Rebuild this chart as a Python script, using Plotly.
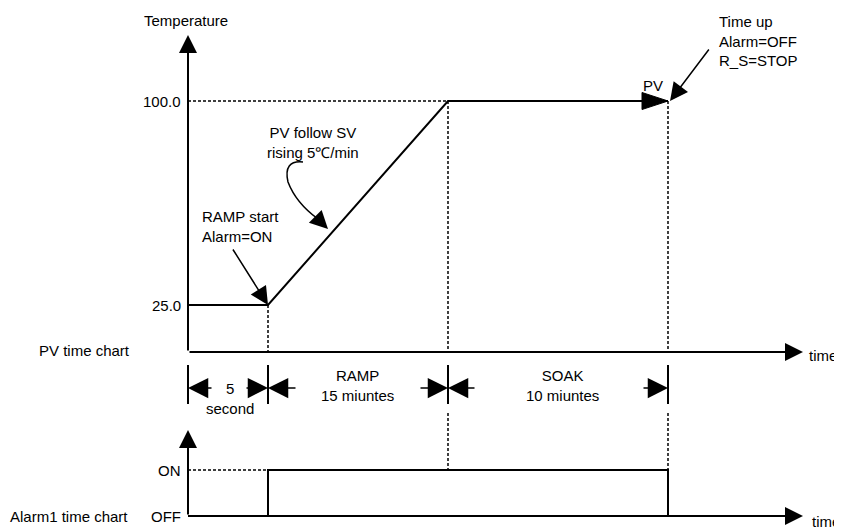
import plotly.graph_objects as go

# ---------------- data ----------------
time_marks = [0, 4, 13, 24]            # schematic time positions: start, +5 s, +15 min, +10 min
pv_values = [25.0, 25.0, 100.0, 100.0] # PV at those moments
alarm_time = [0, 4, 4, 24, 24]
alarm_state = [0, 0, 1, 1, 0]          # 0 = OFF, 1 = ON
temp_ticks = [25.0, 100.0]
temp_tick_labels = ["25.0", "100.0"]
alarm_ticks = [0, 1]
alarm_tick_labels = ["OFF", "ON"]
segment_labels = ["5<br>second", "RAMP<br>15 miuntes", "SOAK<br>10 miuntes"]

# ---------------- pixel <-> data helpers (layout only, page pixels) ----------------
W, H = 842, 530
BODY = 8  # default page body margin offsets the figure
def dx(px):  # page pixel x -> time units
    return (px - 188) / 20.0
def dt(py):  # page pixel y -> temperature units
    return 100 - (py - 101) / 2.72
def ds(py):  # page pixel y -> alarm units
    return (516 - py) / 46.0

FONT = dict(family="Liberation Sans, Arial, sans-serif", size=15, color="black")
t_end_axis = dx(803)
temp_base = dt(352)
alarm_base = alarm_ticks[0]

fig = go.Figure()

# PV trace
fig.add_trace(go.Scatter(x=time_marks, y=pv_values, mode="lines",
                         line=dict(color="black", width=2), xaxis="x", yaxis="y",
                         hoverinfo="skip", showlegend=False))
# Alarm trace
fig.add_trace(go.Scatter(x=alarm_time, y=alarm_state, mode="lines",
                         line=dict(color="black", width=2), xaxis="x", yaxis="y2",
                         hoverinfo="skip", showlegend=False))

shapes = []
annotations = []

def dline(x0, y0, x1, y1, yref="y", dash="3px,2px", width=1.5):
    shapes.append(dict(type="line", xref="x", yref=yref, x0=x0, y0=y0, x1=x1, y1=y1,
                       line=dict(color="black", width=width, dash=dash)))

def arrow(tail, tip, yref="y", width=2, size=1.8, head=2):
    annotations.append(dict(x=tip[0], y=tip[1], ax=tail[0], ay=tail[1], xref="x", yref=yref,
                            axref="x", ayref=yref, text="", showarrow=True, arrowhead=head,
                            arrowsize=size, arrowwidth=width, arrowcolor="black", standoff=0))

def text(s, x, y, xanchor="center", yanchor="middle", yref="y", align="center"):
    annotations.append(dict(x=x, y=y, xref="x", yref=yref, text=s, showarrow=False,
                            xanchor=xanchor, yanchor=yanchor, align=align, font=FONT))

# ---------- PV chart axes ----------
arrow((0, temp_base), (0, dt(35)))
arrow((0, temp_base), (t_end_axis, temp_base))
text("Temperature", dx(186), dt(20))
text("time", dx(807), dt(355), xanchor="left")
text("PV time chart", dx(37), dt(350), xanchor="left")
for v, lab in zip(temp_ticks, temp_tick_labels):
    text(lab, dx(183), v, xanchor="right")

# dashed guides
dline(0, pv_values[2], time_marks[2], pv_values[2])
dline(time_marks[1], pv_values[1], time_marks[1], temp_base)
dline(time_marks[2], pv_values[2], time_marks[2], temp_base)
dline(time_marks[3], pv_values[3], time_marks[3], temp_base)

# PV end arrowhead (elongated filled triangle, tip at last PV point)
tx, ty = time_marks[3], pv_values[3]
hl, hw = 26 / 20.0, 8.5 / 2.72
shapes.append(dict(type="path", xref="x", yref="y",
                   path="M {},{} L {},{} L {},{} Z".format(tx, ty, tx - hl, ty + hw, tx - hl, ty - hw),
                   fillcolor="black", line=dict(color="black", width=1)))
text("PV", dx(653), dt(85))

# annotations with arrows
text("RAMP start<br>Alarm=ON", dx(200), dt(226), xanchor="left", align="left")
arrow((dx(232), dt(248)), (time_marks[1], pv_values[1]), width=1.5, size=2.4)

text("PV follow SV<br>rising 5\u2103/min", dx(313), dt(142))
curve = [(303, 162), (283, 160), (288, 182), (296, 203), (318, 219)]
p = "M {},{} Q {},{} {},{} Q {},{} {},{}".format(
    dx(curve[0][0]), dt(curve[0][1]), dx(curve[1][0]), dt(curve[1][1]),
    dx(curve[2][0]), dt(curve[2][1]), dx(curve[3][0]), dt(curve[3][1]),
    dx(curve[4][0]), dt(curve[4][1]))
shapes.append(dict(type="path", xref="x", yref="y", path=p, line=dict(color="black", width=1.5)))
arrow((dx(317), dt(218)), (dx(328), dt(229)), width=1.5, size=2.4)

text("Time up<br>Alarm=OFF<br>R_S=STOP", dx(717), dt(41), xanchor="left", align="left")
arrow((dx(710), dt(48)), (time_marks[3] + 0.1, pv_values[3]), width=1.5, size=2.4)

# ---------- dimension row ----------
tick_top, tick_bot = dt(365), dt(404)
for t in time_marks:
    shapes.append(dict(type="line", xref="x", yref="y", x0=t, x1=t, y0=tick_top, y1=tick_bot,
                       line=dict(color="black", width=2)))
ya = dt(388)
arrow((dx(213), ya), (time_marks[0], ya), width=1.5, size=2.7)
arrow((dx(245), ya), (time_marks[1], ya), width=1.5, size=2.7)
arrow((dx(297), ya), (time_marks[1], ya), width=1.5, size=2.7)
arrow((dx(419), ya), (time_marks[2], ya), width=1.5, size=2.7)
arrow((dx(476), ya), (time_marks[2], ya), width=1.5, size=2.7)
arrow((dx(642), ya), (time_marks[3], ya), width=1.5, size=2.7)
text(segment_labels[0], dx(230), dt(398))
text(segment_labels[1], dx(357), dt(385))
text(segment_labels[2], dx(562), dt(385))

# dashed links down to alarm chart
for t in time_marks[2:]:
    dline(t, ds(413), t, alarm_ticks[1], yref="y2")

# ---------- Alarm chart ----------
arrow((0, alarm_base), (0, ds(430)), yref="y2")
arrow((0, alarm_base), (t_end_axis, alarm_base), yref="y2")
dline(0, alarm_ticks[1], time_marks[1], alarm_ticks[1], yref="y2")
for v, lab in zip(alarm_ticks, alarm_tick_labels):
    text(lab, dx(183), v, xanchor="right", yref="y2")
text("Alarm1 time chart", dx(8), ds(516), xanchor="left", yref="y2")
text("time", dx(810), ds(521), xanchor="left", yref="y2")

# plot area occupies page pixels BODY..BODY+W horizontally, BODY..BODY+H vertically
fig.update_layout(
    width=W, height=H, margin=dict(l=0, r=0, t=0, b=0, pad=0),
    paper_bgcolor="white", plot_bgcolor="white",
    xaxis=dict(range=[dx(BODY), dx(BODY + W)], visible=False, fixedrange=True),
    yaxis=dict(range=[dt(BODY + H), dt(BODY)], visible=False, fixedrange=True),
    yaxis2=dict(range=[ds(BODY + H), ds(BODY)], visible=False, overlaying="y", fixedrange=True),
    shapes=shapes, annotations=annotations, showlegend=False,
)

fig.write_html("out.html")
